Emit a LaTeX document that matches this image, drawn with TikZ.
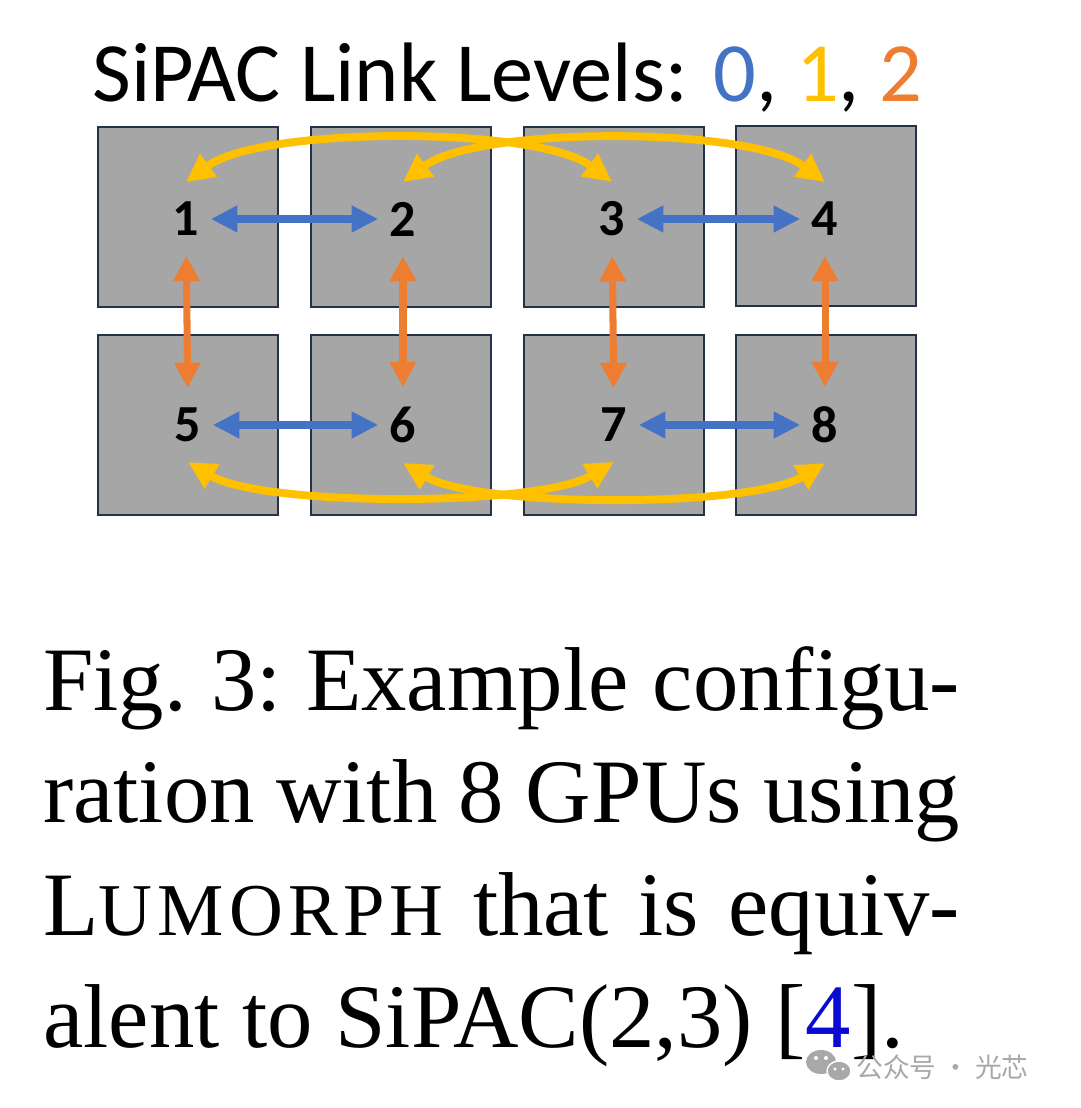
\documentclass[tikz,border=0pt]{standalone}
\usepackage{fontspec}
\setmainfont{Liberation Serif}
\newfontfamily\calibri{Carlito}
\newfontfamily\cjk{Noto Sans CJK SC}
\usepackage{tikz}
\usetikzlibrary{arrows.meta}

\definecolor{boxgray}{HTML}{A6A6A6}
\definecolor{boxedge}{HTML}{24324A}
\definecolor{lvlblue}{HTML}{4472C4}
\definecolor{lvlyellow}{HTML}{FFC000}
\definecolor{lvlorange}{HTML}{ED7D31}
\definecolor{linkblue}{HTML}{0A0AD2}
\definecolor{markgray}{HTML}{A8A8A8}

\newcommand{\lumorph}{L{\fontsize{53}{80}\selectfont\addfontfeatures{LetterSpace=7}UMORPH}}

\begin{document}
\begin{tikzpicture}[x=0.025cm, y=-0.025cm,
    gpu/.style={draw=boxedge, fill=boxgray, line width=1.4pt, minimum size=128pt, inner sep=0pt},
    num/.style={font=\calibri\bfseries\fontsize{37}{37}\selectfont, inner xsep=8pt, inner ysep=14pt},
    lvl0/.style={lvlblue, line width=5.6pt, {Triangle[length=19pt,width=18pt]}-{Triangle[length=19pt,width=18pt]}},
    lvl1/.style={lvlyellow, line width=5.6pt, {Triangle[length=20pt,width=19pt]}-{Triangle[length=20pt,width=19pt]}},
    lvl2/.style={lvlorange, line width=5pt, {Triangle[length=18pt,width=18pt]}-{Triangle[length=18pt,width=18pt]}}
]
    \useasboundingbox[fill=white] (0,0) rectangle (1080,1108);

    % Title
    \node[font=\calibri\fontsize{60}{72}\selectfont, anchor=base west, inner sep=0pt] (title) at (92,102)
        {SiPAC Link Levels: \textcolor{lvlblue}{0}, \textcolor{lvlyellow}{1}, \textcolor{lvlorange}{2}};

    % GPU boxes
    \foreach \i/\x/\y in {1/188/217, 2/401/217, 3/614/217, 4/826/216,
                          5/188/425, 6/401/425, 7/614/425, 8/826/425} {
        \node[gpu] (g\i) at (\x,\y) {};
    }

    % GPU numbers
    \foreach \i/\x/\y in {1/186/219, 2/403/219, 3/612/219, 4/825/219,
                          5/188/425, 6/403/425, 7/614/425, 8/825/425} {
        \node[num] (n\i) at (\x,\y) {\i};
    }

    % Level 0 links
    \draw[lvl0] (n1) -- (n2);
    \draw[lvl0] (n3) -- (n4);
    \draw[lvl0] (n5) -- (n6);
    \draw[lvl0] (n7) -- (n8);

    % Level 2 links
    \foreach \i in {1,...,4} {
        \pgfmathtruncatemacro{\j}{\i+4}
        \draw[lvl2] (n\i) -- (n\j);
    }

    % Level 1 links
    \draw[lvl1] (n1.north) .. controls +(75,-56) and +(-75,-56) .. (n3.north);
    \draw[lvl1] (n2.north) .. controls +(75,-56) and +(-75,-56) .. (n4.north);
    \draw[lvl1] (n5.south) .. controls +(75,45) and +(-75,45) .. (n7.south);
    \draw[lvl1] (n6.south) .. controls +(75,45) and +(-75,45) .. (n8.south);

    % Caption
    \node[anchor=base west, inner sep=0pt, text width=652pt, align=justify,
          font=\fontsize{64.5}{80}\selectfont] (caption) at (43,710)
        {\frenchspacing\hyphenpenalty=10000 Fig.~3: Example configu-\linebreak ration with 8 GPUs using\linebreak
         \lumorph{} that is equiv-\linebreak alent to SiPAC(2,3) [\textcolor{linkblue}{4}].};

    % Watermark
    \fill[markgray] (821,1062) ellipse [x radius=15, y radius=12];
    \filldraw[fill=markgray, draw=white, line width=1pt] (839,1071) ellipse [x radius=12, y radius=10];
    \foreach \x/\y/\r in {816/1058/2, 826/1058/2, 835/1069/1.6, 843/1069/1.6} {
        \fill[white] (\x,\y) circle (\r);
    }
    \node[font=\cjk\fontsize{19}{19}\selectfont, text=markgray, anchor=west, inner sep=0pt] (mark) at (856,1067)
        {公众号 · 光芯};
\end{tikzpicture}
\end{document}
